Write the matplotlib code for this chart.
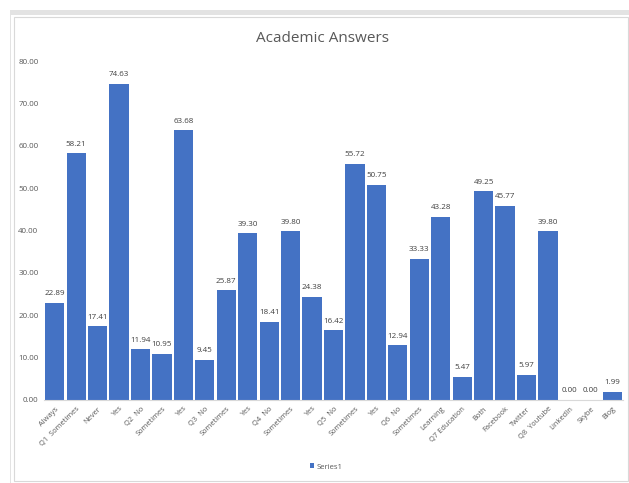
import matplotlib
matplotlib.use("Agg")
import matplotlib.pyplot as plt
from matplotlib.patches import Rectangle

plt.rcParams['font.family'] = ['Open Sans', 'DejaVu Sans']

categories = ['Always', 'Q1  Sometimes', 'Never', 'Yes', 'Q2  No', 'Sometimes',
              'Yes', 'Q3  No', 'Sometimes', 'Yes', 'Q4  No', 'Sometimes',
              'Yes', 'Q5  No', 'Sometimes', 'Yes', 'Q6  No', 'Sometimes',
              'Learning', 'Q7 Education', 'Both', 'Facebook', 'Twitter',
              'Q8  Youtube', 'LinkedIn', 'Skybe', 'Blog']
series1 = [22.89, 58.21, 17.41, 74.63, 11.94, 10.95,
           63.68, 9.45, 25.87, 39.30, 18.41, 39.80,
           24.38, 16.42, 55.72, 50.75, 12.94, 33.33,
           43.28, 5.47, 49.25, 45.77, 5.97,
           39.80, 0.00, 0.00, 1.99]

bar_color = '#4472C4'
text_color = '#595959'

fig = plt.figure(figsize=(6.29, 4.83), dpi=100)
W, H = 629, 483

# chart frame: grey strip on top, thin borders around
def px_rect(x0, y0, x1, y1, **kw):
    fig.patches.append(Rectangle((x0 / W, 1 - y1 / H), (x1 - x0) / W, (y1 - y0) / H,
                                 transform=fig.transFigure, figure=fig, **kw))

px_rect(10, 10, 629, 15, facecolor='#e3e3e3', edgecolor='none')
px_rect(10, 10, 11.5, 483, facecolor='#e3e3e3', edgecolor='none')
px_rect(14, 17, 628, 481, facecolor='none', edgecolor='#d9d9d9', linewidth=0.8)

ax = fig.add_axes([44 / W, 1 - 400 / H, (623 - 44) / W, (400 - 61) / H])
x = range(len(categories))
bars = ax.bar(x, series1, width=0.9, color=bar_color, label='Series1')

for xi, v in zip(x, series1):
    ax.annotate(f'{v:.2f}', (xi, v), xytext=(0, 4), textcoords='offset points',
                ha='center', va='bottom', fontsize=5.8, color='#404040')

ax.set_xlim(-0.5, len(categories) - 0.5)
ax.set_ylim(0, 80)
ax.set_yticks(range(0, 81, 10))
ax.set_yticklabels([f'{t:.2f}' for t in range(0, 81, 10)])
ax.set_xticks(list(x))
ax.set_xticklabels(categories, rotation=45, ha='right', rotation_mode='anchor')
ax.tick_params(axis='both', length=0, labelsize=5.8, labelcolor=text_color)
ax.tick_params(axis='x', labelsize=5.4, pad=4)
ax.tick_params(axis='y', pad=4)
for side in ['top', 'right', 'left']:
    ax.spines[side].set_visible(False)
ax.spines['bottom'].set_color('#d9d9d9')
ax.spines['bottom'].set_linewidth(0.8)

fig.text(322 / W, 1 - 38 / H, 'Academic Answers', ha='center', va='center',
         fontsize=11, color=text_color)

fig.legend(handles=[bars], labels=['Series1'], loc='center',
           bbox_to_anchor=(326 / W, 1 - 467 / H), frameon=False, fontsize=5.6,
           handlelength=0.6, handleheight=0.6, handletextpad=0.3,
           labelcolor=text_color)

fig.savefig('out.png', dpi=100)
